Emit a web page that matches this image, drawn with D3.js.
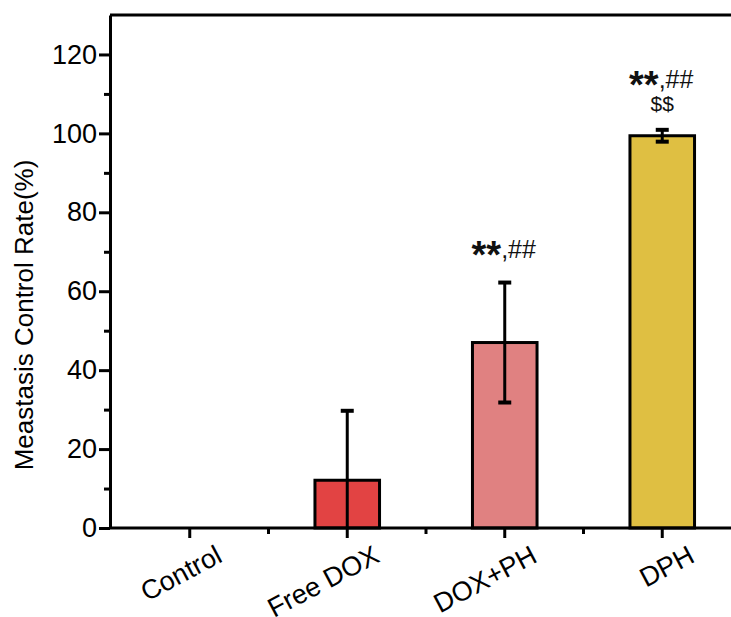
<!DOCTYPE html>
<html>
<head>
<meta charset="utf-8">
<script src="https://cdn.jsdelivr.net/npm/d3@7"></script>
<style>
  body { margin: 0; background: #fff; }
  svg { display: block; font-family: "Liberation Sans", Arial, sans-serif; }
</style>
</head>
<body>
<div id="chart"></div>
<script>
// data
const groups = ["Control", "Free DOX", "DOX+PH", "DPH"];
const means = [0, 12.1, 47.0, 99.4];
const errors = [0, 17.6, 15.2, 1.5];
const barColors = ["#ffffff", "#e24343", "#e08181", "#dfbf42"];
const yMajorTicks = [0, 20, 40, 60, 80, 100, 120];
const yMinorTicks = [10, 30, 50, 70, 90, 110];
const marks = ["", "", "**,##", "**,##"];
const marks2 = ["", "", "", "$$"];

const width = 731, height = 617;
const plotLeft = 110, plotTop = 15, plotBottom = 528;

const svg = d3.select("#chart").append("svg")
    .attr("width", width)
    .attr("height", height);

const x = d3.scaleBand()
    .domain(groups)
    .range([111, 741])
    .padding(0);

const y = d3.scaleLinear()
    .domain([0, 130])
    .range([plotBottom, plotTop]);

const barW = x.bandwidth() * 0.41;
const cx = g => x(g) + x.bandwidth() / 2;

const data = groups.map((g, i) => ({ g, m: means[i], e: errors[i], c: barColors[i], a: marks[i], b: marks2[i] }));

// bars
svg.selectAll(".bar")
    .data(data.filter(d => d.m > 0))
    .enter().append("rect")
    .attr("class", "bar")
    .attr("x", d => cx(d.g) - barW / 2)
    .attr("y", d => y(d.m))
    .attr("width", barW)
    .attr("height", d => y(0) - y(d.m))
    .attr("fill", d => d.c)
    .attr("stroke", "#000")
    .attr("stroke-width", 3);

// error bars (lower whisker clipped at zero)
const eb = svg.selectAll(".err")
    .data(data.filter(d => d.e > 0))
    .enter().append("g")
    .attr("class", "err")
    .attr("stroke", "#000")
    .attr("stroke-width", 3);

eb.append("line")
    .attr("x1", d => cx(d.g)).attr("x2", d => cx(d.g))
    .attr("y1", d => y(Math.max(0, d.m - d.e)))
    .attr("y2", d => y(d.m + d.e));
eb.append("line")
    .attr("x1", d => cx(d.g) - 6.5).attr("x2", d => cx(d.g) + 6.5)
    .attr("y1", d => y(d.m + d.e)).attr("y2", d => y(d.m + d.e))
    .attr("stroke-width", 4);
eb.filter(d => d.m - d.e > 0).append("line")
    .attr("x1", d => cx(d.g) - 6.5).attr("x2", d => cx(d.g) + 6.5)
    .attr("y1", d => y(d.m - d.e)).attr("y2", d => y(d.m - d.e))
    .attr("stroke-width", 4);

// significance marks
const ann = svg.selectAll(".ann")
    .data(data.filter(d => d.a))
    .enter().append("text")
    .attr("class", "ann")
    .attr("x", d => cx(d.g) - 1)
    .attr("y", d => y(d.m + d.e) - 25 - (d.b ? 16.5 : 0))
    .attr("text-anchor", "middle")
    .attr("fill", "#111");
ann.append("tspan")
    .attr("font-size", 38).attr("font-weight", "bold").attr("dy", 10)
    .text("**");
ann.append("tspan")
    .attr("font-size", 25).attr("dy", -10)
    .text(",##");

svg.selectAll(".ann2")
    .data(data.filter(d => d.b))
    .enter().append("text")
    .attr("class", "ann2")
    .attr("x", d => cx(d.g))
    .attr("y", d => y(d.m + d.e) - 19)
    .attr("text-anchor", "middle")
    .attr("font-size", 21)
    .attr("fill", "#111")
    .text(d => d.b);

// y axis
const yAxis = svg.append("g")
    .attr("transform", `translate(${plotLeft},0)`)
    .call(d3.axisLeft(y).tickValues(yMajorTicks).tickSize(11).tickSizeOuter(0).tickPadding(2));
yAxis.append("g")
    .call(d3.axisLeft(y).tickValues(yMinorTicks).tickSize(6).tickFormat(""))
    .select(".domain").remove();
yAxis.selectAll("text").attr("font-size", 27).attr("fill", "#000").attr("font-family", "'Liberation Sans', Arial, sans-serif");

// x axis
const xAxis = svg.append("g")
    .attr("transform", `translate(0,${plotBottom})`)
    .call(d3.axisBottom(x).tickSize(10).tickSizeOuter(0).tickFormat(""));
xAxis.select(".domain").attr("d", `M${plotLeft},0H${width}`);
xAxis.selectAll(".minor")
    .data(groups.slice(1))
    .enter().append("line")
    .attr("class", "minor")
    .attr("x1", d => x(d)).attr("x2", d => x(d))
    .attr("y1", 0).attr("y2", 6)
    .attr("stroke", "#000");

svg.selectAll(".xlab")
    .data(groups)
    .enter().append("text")
    .attr("class", "xlab")
    .attr("text-anchor", "end")
    .attr("font-size", 27)
    .attr("transform", d => `translate(${cx(d) + 34},561) rotate(-28)`)
    .text(d => d);

// top frame line
svg.append("line")
    .attr("x1", plotLeft).attr("x2", width)
    .attr("y1", y(130)).attr("y2", y(130))
    .attr("stroke", "#000").attr("stroke-width", 3);

svg.selectAll(".domain, .tick line, .minor").attr("stroke-width", 3).attr("stroke", "#000");

// y axis title
svg.append("text")
    .attr("transform", "translate(33,315) rotate(-90)")
    .attr("text-anchor", "middle")
    .attr("font-size", 26)
    .text("Meastasis Control Rate(%)");
</script>
</body>
</html>
